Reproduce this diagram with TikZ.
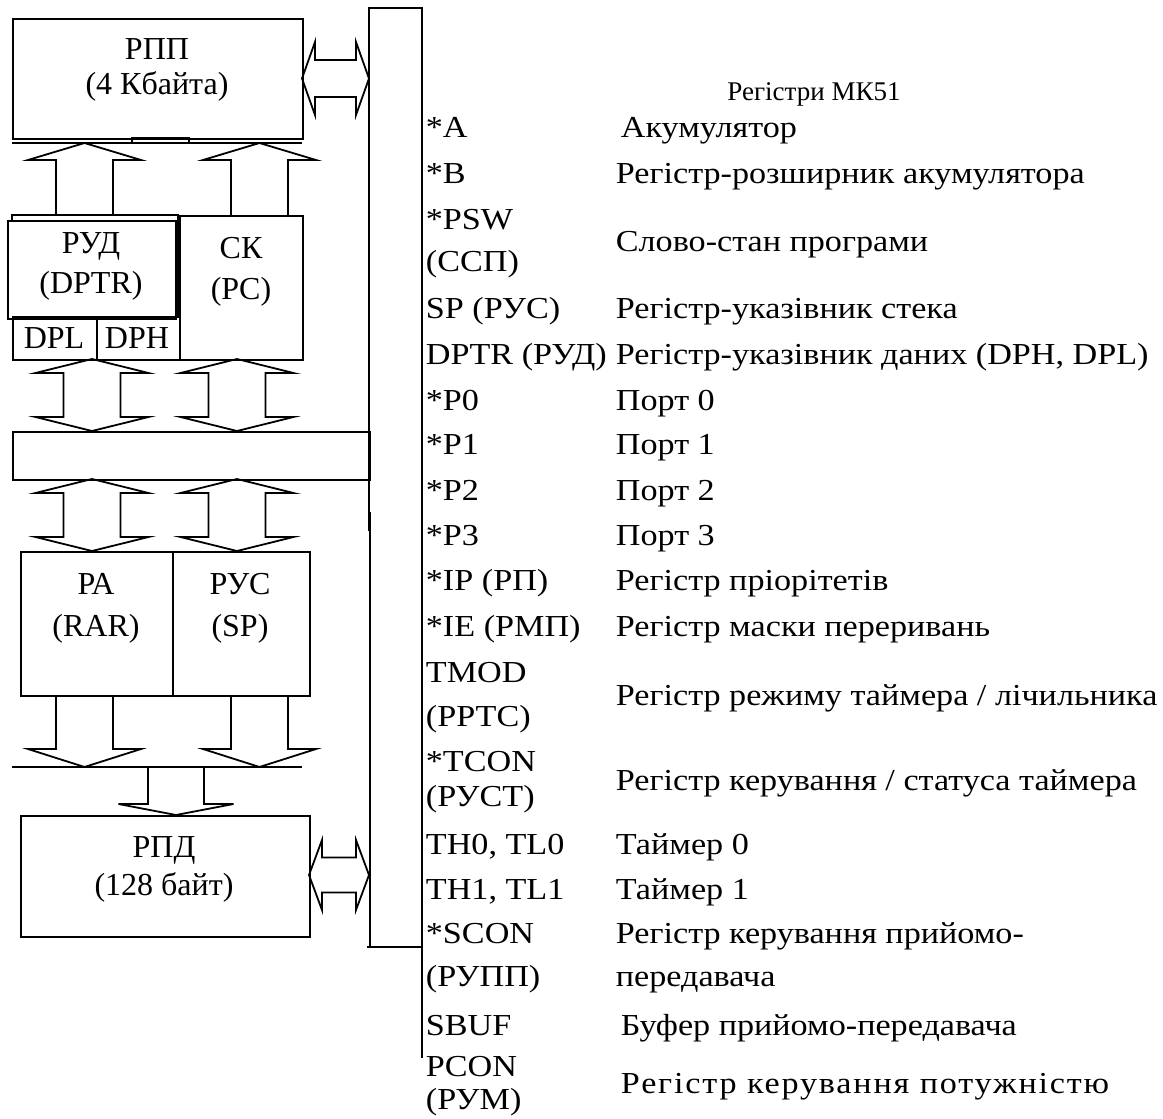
\documentclass[tikz,border=0pt]{standalone}
\usepackage{fontspec}
\setmainfont{Liberation Serif}
\newfontfamily\tabfont[FakeStretch=1.12]{Liberation Serif}
\newfontfamily\tabfontwide[FakeStretch=1.12,LetterSpace=6]{Liberation Serif}
\begin{document}
\begin{tikzpicture}[x=1pt,y=-1pt,line width=1.8pt,
  lbl/.style={font=\fontsize{32}{38}\selectfont, inner sep=0pt, anchor=base},
  lt/.style={font=\tabfont\fontsize{30.5}{36}\selectfont, inner sep=0pt, anchor=base west},
  hd/.style={font=\fontsize{27}{32}\selectfont, inner sep=0pt, anchor=base},
  box/.style={draw, line width=1.8pt, inner sep=0pt, anchor=north west},
  blk/.style={draw, line width=1.8pt, line join=miter}]
\useasboundingbox (0,0) rectangle (1163,1119);
\newcommand{\dblV}[3]{%
  \draw[blk] (#1,#2) -- (#1+56.5,#2+14) -- (#1+28.5,#2+14) -- (#1+28.5,#3-14) -- (#1+56.5,#3-14) -- (#1,#3) -- (#1-56.5,#3-14) -- (#1-28.5,#3-14) -- (#1-28.5,#2+14) -- (#1-56.5,#2+14) -- cycle;}
\newcommand{\dblH}[6]{% xl xr yc headlen headhalf shafthalf
  \draw[blk] (#1,#3) -- (#1+#4,#3-#5) -- (#1+#4,#3-#6) -- (#2-#4,#3-#6) -- (#2-#4,#3-#5) -- (#2,#3) -- (#2-#4,#3+#5) -- (#2-#4,#3+#6) -- (#1+#4,#3+#6) -- (#1+#4,#3+#5) -- cycle;}
\newcommand{\vArr}[6]{% cx tip headbase shaftend shafthalf winghalf
  \draw[blk] (#1-#5,#4) -- (#1-#5,#3) -- (#1-#6,#3) -- (#1,#2) -- (#1+#6,#3) -- (#1+#5,#3) -- (#1+#5,#4);}

% boxes
\node[box, minimum width=290pt, minimum height=120pt] (rpp) at (12,18) {};
\draw (12,143) -- (302,143);
\draw (132,138) rectangle (189,143);
\draw (12,220) -- (12,215) -- (178,215) -- (178,316);
\node[box, minimum width=168pt, minimum height=98pt] (rud) at (7,220) {};
\node[box, minimum width=84pt, minimum height=43pt] (dpl) at (12,316) {};
\node[box, minimum width=83pt, minimum height=43pt] (dph) at (96,316) {};
\node[box, minimum width=123pt, minimum height=144pt] (sk) at (179,215) {};
\node[box, minimum width=357pt, minimum height=48pt] (bbox) at (12,431) {};
\node[box, minimum width=152pt, minimum height=144pt] (ra) at (20,551) {};
\node[box, minimum width=137pt, minimum height=144pt] (rus) at (172,551) {};
\node[box, minimum width=289pt, minimum height=121pt] (rpd) at (20,815) {};

% texts in boxes
\node[lbl] (t1) at (157,59) {РПП};
\node[lbl] (t2) at (157,94) {(4 Кбайта)};
\node[lbl] (t3) at (91,253) {РУД};
\node[lbl] (t4) at (91,293) {(DPTR)};
\node[lbl] (t5) at (54,348) {DPL};
\node[lbl] (t6) at (137,348) {DPH};
\node[lbl] (t7) at (241,258) {СК};
\node[lbl] (t8) at (241,299) {(PC)};
\node[lbl] (t9) at (96,594) {РА};
\node[lbl] (t10) at (96,636) {(RAR)};
\node[lbl] (t11) at (240,594) {РУС};
\node[lbl] (t12) at (240,636) {(SP)};
\node[lbl] (t13) at (164,857) {РПД};
\node[lbl] (t14) at (164,895) {(128 байт)};

% bus
\draw (369,531) -- (369,8) -- (422,8) -- (422,1058);
\draw (370,512) -- (370,947);
\draw (367,947) -- (422,947);

% block arrows
\dblH{302}{369}{78.5}{13}{36.5}{18.5}
\dblH{309}{369}{875}{13}{35}{17.5}
\vArr{84.5}{143}{160}{215}{28.5}{56.5}
\vArr{259.5}{143}{160}{215}{28.5}{56.5}
\dblV{92}{359}{431}
\dblV{237}{359}{431}
\dblV{92}{479}{551}
\dblV{237}{479}{551}
\vArr{84.5}{767}{749}{695}{28.5}{56.5}
\vArr{259.5}{767}{749}{695}{28.5}{56.5}
\draw (12,767) -- (302,767);
\vArr{176}{815}{804}{767}{28}{57.5}

% register table
\node[hd] (hdr) at (814,100) {Регістри МК51};
\newcommand{\rowL}[3]{\node[lt] (l#1) at (425,#2) {#3};}
\newcommand{\rowD}[4]{\node[lt] (d#1) at (#2,#3) {#4};}
\rowL{0}{137}{*A}
\rowL{1}{183}{*B}
\rowL{2}{229}{*PSW}
\rowL{3}{271}{(ССП)}
\rowL{4}{318}{SP (РУС)}
\rowL{5}{364}{DPTR (РУД)}
\rowL{6}{410}{*P0}
\rowL{7}{454}{*P1}
\rowL{8}{500}{*P2}
\rowL{9}{545}{*P3}
\rowL{10}{590}{*IP (РП)}
\rowL{11}{636}{*IE (РМП)}
\rowL{12}{682}{TMOD}
\rowL{13}{726}{(РРТС)}
\rowL{14}{771}{*TCON}
\rowL{15}{806}{(РУСТ)}
\rowL{16}{854}{TH0, TL0}
\rowL{17}{899}{TH1, TL1}
\rowL{18}{943}{*SCON}
\rowL{19}{986}{(РУПП)}
\rowL{20}{1035}{SBUF}
\rowL{21}{1076}{PCON}
\rowL{22}{1109}{(РУМ)}
\rowD{0}{620}{137}{Акумулятор}
\rowD{1}{615}{183}{Регістр-розширник акумулятора}
\rowD{2}{615}{251}{Слово-стан програми}
\rowD{4}{615}{318}{Регістр-указівник стека}
\rowD{5}{615}{364}{Регістр-указівник даних (DPH, DPL)}
\rowD{6}{615}{410}{Порт 0}
\rowD{7}{615}{454}{Порт 1}
\rowD{8}{615}{500}{Порт 2}
\rowD{9}{615}{545}{Порт 3}
\rowD{10}{615}{590}{Регістр пріорітетів}
\rowD{11}{615}{636}{Регістр маски переривань}
\rowD{12}{615}{705}{Регістр режиму таймера / лічильника}
\rowD{14}{615}{790}{Регістр керування / статуса таймера}
\rowD{16}{615}{854}{Таймер 0}
\rowD{17}{615}{899}{Таймер 1}
\rowD{18}{615}{943}{Регістр керування прийомо-}
\rowD{19}{615}{986}{передавача}
\rowD{20}{620}{1035}{Буфер прийомо-передавача}
\node[lt, font=\tabfontwide\fontsize{30.5}{36}\selectfont] (d21) at (620,1093) {Регістр керування потужністю};
\end{tikzpicture}
\end{document}
